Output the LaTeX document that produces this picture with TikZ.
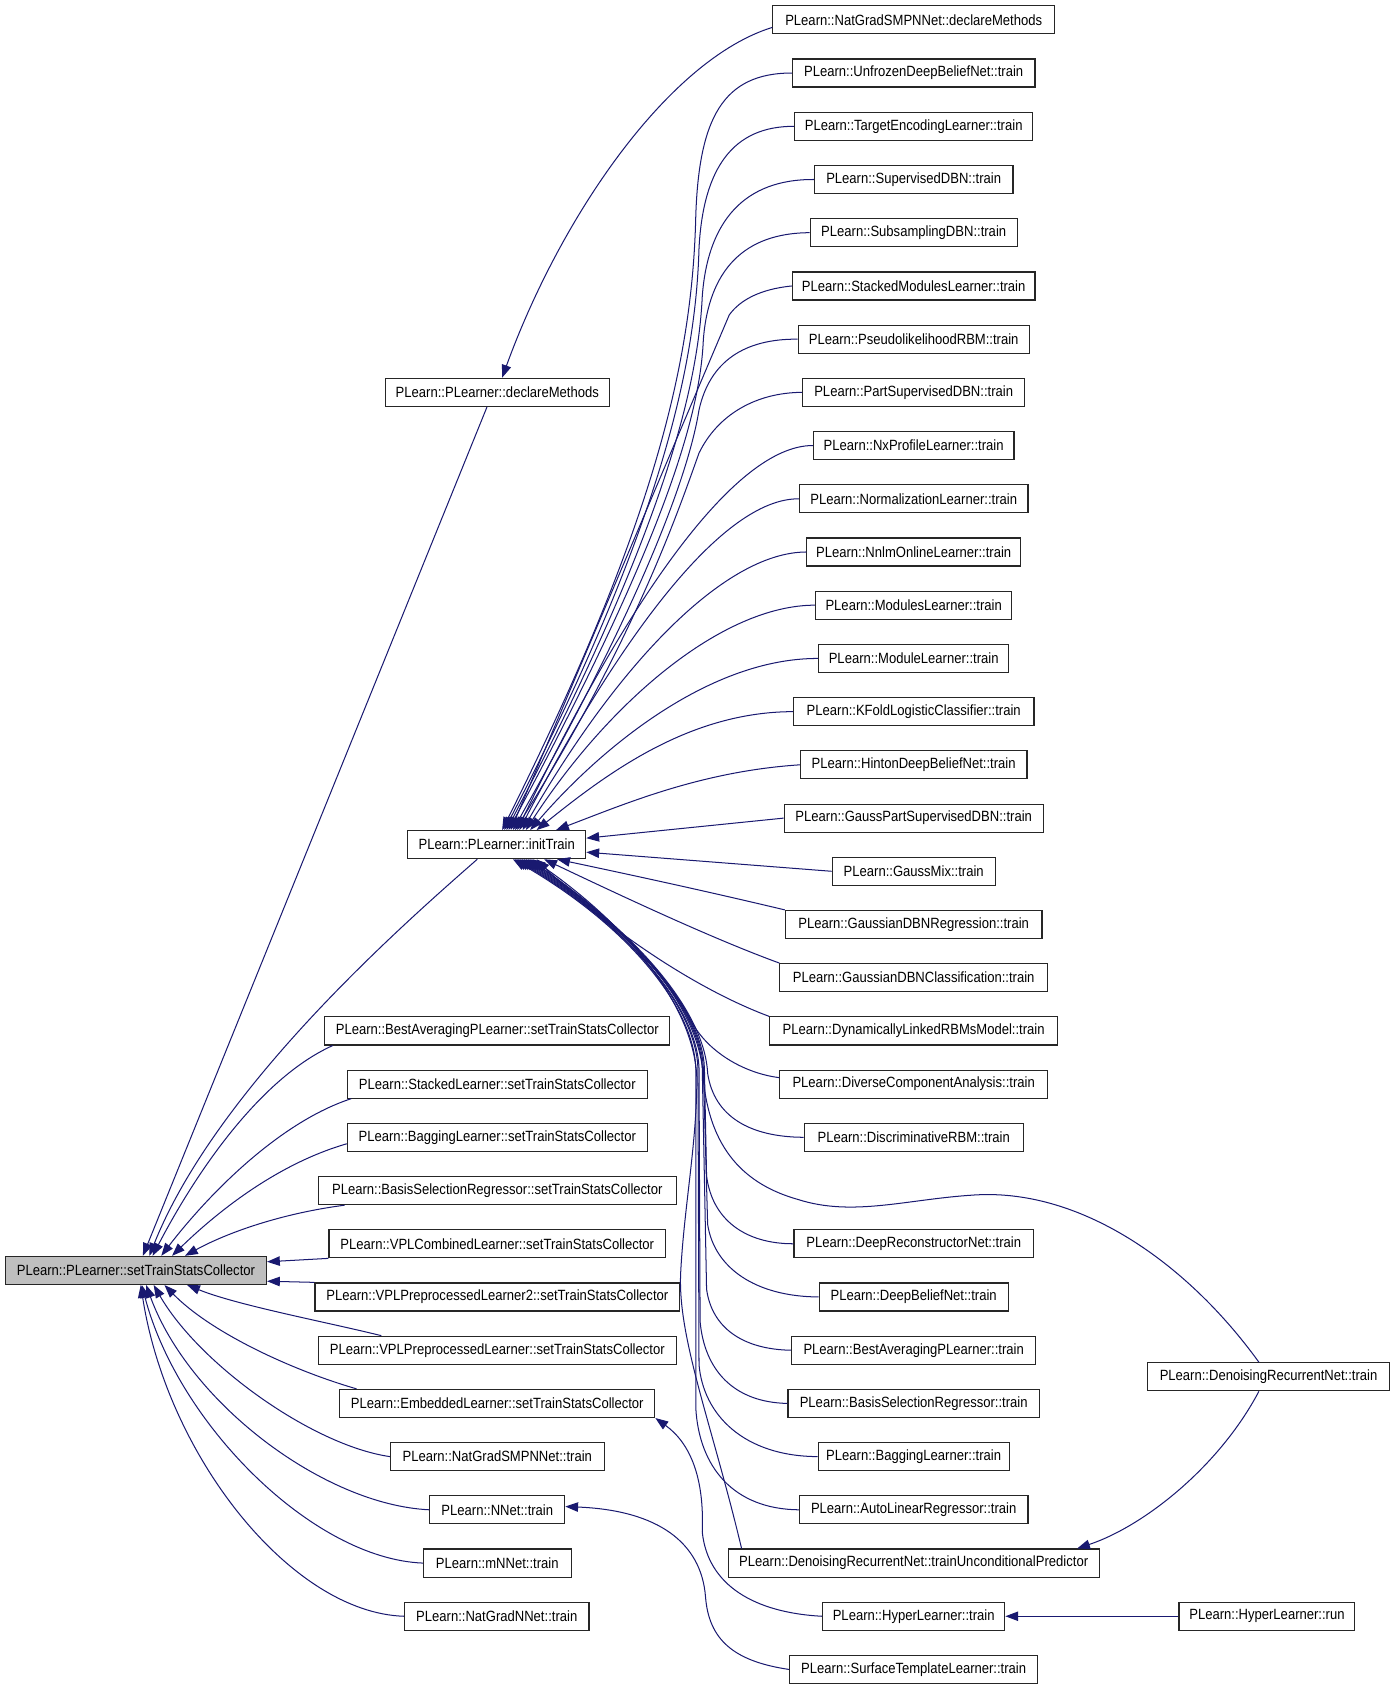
\documentclass[tikz,border=0pt]{standalone}
\usepackage{fontspec}
\setmainfont{Liberation Sans}
\usepackage{graphicx}
\usetikzlibrary{arrows.meta,calc}
\definecolor{edgec}{RGB}{25,25,112}
\definecolor{hilite}{RGB}{191,191,191}
\newcommand{\tx}[1]{\scalebox{0.88}[1]{#1}}
\newcommand{\bx}[5]{\node[box,minimum width=#4*0.8pt] (#1) at (#2,#3) {\tx{#5}};}
\begin{document}
\begin{tikzpicture}[x=0.8pt,y=-0.8pt,
  box/.style={draw=black!85, line width=0.85pt, fill=white, minimum height=26*0.8pt, inner sep=0pt, font=\fontsize{11}{13}\selectfont},
  edge/.style={draw=edgec, line width=0.75pt, -{Triangle[length=9.5pt,width=7pt]}}]
\useasboundingbox[fill=white] (0,0) rectangle (1290.4,1567.6);
% left
\node[box,fill=hilite,minimum width=242*0.8pt] (stc) at (126,1177.7) {\tx{PLearn::PLearner::setTrainStatsCollector}};
\bx{pdm}{461}{363.7}{208}{PLearn::PLearner::declareMethods}
\bx{pit}{460.5}{783}{165}{PLearn::PLearner::initTrain}
% middle
\bx{m1}{461}{955.7}{320}{PLearn::BestAveragingPLearner::setTrainStatsCollector}
\bx{m2}{461}{1005}{278}{PLearn::StackedLearner::setTrainStatsCollector}
\bx{m3}{461}{1054.3}{278}{PLearn::BaggingLearner::setTrainStatsCollector}
\bx{m4}{461}{1103.7}{332}{PLearn::BasisSelectionRegressor::setTrainStatsCollector}
\bx{m5}{461}{1153}{312}{PLearn::VPLCombinedLearner::setTrainStatsCollector}
\bx{m6}{461}{1202.3}{338}{PLearn::VPLPreprocessedLearner2::setTrainStatsCollector}
\bx{m7}{461}{1251.7}{332}{PLearn::VPLPreprocessedLearner::setTrainStatsCollector}
\bx{m8}{461}{1301}{292}{PLearn::EmbeddedLearner::setTrainStatsCollector}
\bx{m9}{461}{1350.3}{198}{PLearn::NatGradSMPNNet::train}
\bx{m10}{461}{1399.6}{125}{PLearn::NNet::train}
\bx{m11}{461}{1449}{137}{PLearn::mNNet::train}
\bx{m12}{460.5}{1498.3}{171}{PLearn::NatGradNNet::train}
% right column
\bx{r0}{847}{18.4}{261}{PLearn::NatGradSMPNNet::declareMethods}
\bx{r1}{847}{67.7}{225}{PLearn::UnfrozenDeepBeliefNet::train}
\bx{r2}{847}{117.1}{221}{PLearn::TargetEncodingLearner::train}
\bx{r3}{847}{166.4}{184}{PLearn::SupervisedDBN::train}
\bx{r4}{847}{215.7}{192}{PLearn::SubsamplingDBN::train}
\bx{r5}{847}{265.1}{225}{PLearn::StackedModulesLearner::train}
\bx{r6}{847}{314.4}{214}{PLearn::PseudolikelihoodRBM::train}
\bx{r7}{847}{363.7}{206}{PLearn::PartSupervisedDBN::train}
\bx{r8}{847}{413}{186}{PLearn::NxProfileLearner::train}
\bx{r9}{847}{462.4}{212}{PLearn::NormalizationLearner::train}
\bx{r10}{847}{511.7}{198}{PLearn::NnlmOnlineLearner::train}
\bx{r11}{847}{561}{182}{PLearn::ModulesLearner::train}
\bx{r12}{847}{610.4}{176}{PLearn::ModuleLearner::train}
\bx{r13}{847}{659.7}{223}{PLearn::KFoldLogisticClassifier::train}
\bx{r14}{847}{709}{210}{PLearn::HintonDeepBeliefNet::train}
\bx{r15}{847}{758.4}{240}{PLearn::GaussPartSupervisedDBN::train}
\bx{r16}{847}{807.7}{151}{PLearn::GaussMix::train}
\bx{r17}{847}{857}{238}{PLearn::GaussianDBNRegression::train}
\bx{r18}{847}{906.3}{248}{PLearn::GaussianDBNClassification::train}
\bx{r19}{847}{955.7}{267}{PLearn::DynamicallyLinkedRBMsModel::train}
\bx{r20}{847}{1005}{248}{PLearn::DiverseComponentAnalysis::train}
\bx{r21}{847}{1054.3}{203}{PLearn::DiscriminativeRBM::train}
\bx{r22}{847}{1153}{222}{PLearn::DeepReconstructorNet::train}
\bx{r23}{847}{1202.3}{175}{PLearn::DeepBeliefNet::train}
\bx{r24}{847}{1251.7}{226}{PLearn::BestAveragingPLearner::train}
\bx{r25}{847}{1301}{233}{PLearn::BasisSelectionRegressor::train}
\bx{r26}{847}{1350.3}{177}{PLearn::BaggingLearner::train}
\bx{r27}{847}{1399.6}{212}{PLearn::AutoLinearRegressor::train}
\bx{r28}{847}{1449}{344}{PLearn::DenoisingRecurrentNet::trainUnconditionalPredictor}
\bx{r29}{847}{1498.3}{169}{PLearn::HyperLearner::train}
\bx{r30}{847}{1547.6}{230}{PLearn::SurfaceTemplateLearner::train}
% far right
\bx{drn}{1176}{1276.3}{224}{PLearn::DenoisingRecurrentNet::train}
\bx{hlr}{1174.5}{1498.3}{163}{PLearn::HyperLearner::run}

% ---- edges into setTrainStatsCollector
\draw[edge] ($(pdm.south west)+(95,0)$) -- ($(stc.north west)+(128,0)$);
\draw[edge] ($(pit.south west)+(65,0)$) .. controls (370,860) and (200,1010) .. ($(stc.north west)+(134,0)$);
\draw[edge] ($(m1.south west)+(8,0)$) .. controls (240,1000) and (180,1090) .. ($(stc.north west)+(137,0)$);
\draw[edge] ($(m2.south west)+(4,0)$) .. controls (260,1040) and (195,1105) .. ($(stc.north west)+(145,0)$);
\draw[edge] ($(m3.west)+(0,6)$) .. controls (260,1078) and (205,1120) .. ($(stc.north west)+(155,0)$);
\draw[edge] ($(m4.south west)+(25,0)$) .. controls (260,1125) and (210,1143) .. ($(stc.north west)+(167,0)$);
\draw[edge] (m5.south west) -- ($(stc.east)+(0,-8)$);
\draw[edge] (m6.north west) -- ($(stc.east)+(0,10)$);
\draw[edge] ($(m7.north west)+(59,0)$) .. controls (300,1225) and (220,1210) .. ($(stc.south west)+(169,0)$);
\draw[edge] ($(m8.north west)+(16,0)$) .. controls (270,1270) and (195,1235) .. ($(stc.south west)+(148,0)$);
\draw[edge] (m9.west) .. controls (290,1340) and (185,1265) .. ($(stc.south west)+(138,0)$);
\draw[edge] (m10.west) .. controls (300,1395) and (175,1300) .. ($(stc.south west)+(131,0)$);
\draw[edge] (m11.west) .. controls (290,1445) and (165,1320) .. ($(stc.south west)+(127,0)$);
\draw[edge] (m12.west) .. controls (270,1495) and (155,1350) .. ($(stc.south west)+(126,0)$);

% ---- into declareMethods
\draw[edge] ($(r0.west)+(0,7)$) .. controls (620,55) and (520,200) .. ($(pdm.north west)+(109,0)$);

% ---- into initTrain (top)
\draw[edge] (r1.west) .. controls (670,67.7) and (648,110) .. (645,200) .. controls (642,330) and (610,480) .. ($(pit.north west)+(88,0)$);
\draw[edge] (r2.west) .. controls (680,117) and (652,155) .. (648,230) .. controls (645,340) and (612,490) .. ($(pit.north west)+(90,0)$);
\draw[edge] (r3.west) .. controls (690,166) and (656,205) .. (651,275) .. controls (647,360) and (614,495) .. ($(pit.north west)+(92,0)$);
\draw[edge] (r4.west) .. controls (690,216) and (657,250) .. (652,315) .. controls (649,385) and (616,500) .. ($(pit.north west)+(94,0)$);
\draw[edge] (r5.west) .. controls (705,268) and (686,278) .. (676,292) -- ($(pit.north west)+(96,0)$);
\draw[edge] (r6.west) .. controls (690,314) and (658,335) .. (648,380) .. controls (640,430) and (605,540) .. ($(pit.north west)+(98,0)$);
\draw[edge] (r7.west) .. controls (700,364) and (665,385) .. (648,420) .. controls (630,470) and (590,590) .. ($(pit.north west)+(100,0)$);
\draw[edge] (r8.west) .. controls (680,413) and (580,560) .. ($(pit.north west)+(102,0)$);
\draw[edge] (r9.west) .. controls (670,462) and (575,590) .. ($(pit.north west)+(104,0)$);
\draw[edge] (r10.west) .. controls (670,512) and (570,620) .. ($(pit.north west)+(107,0)$);
\draw[edge] (r11.west) .. controls (670,561) and (565,650) .. ($(pit.north west)+(110,0)$);
\draw[edge] (r12.west) .. controls (660,610) and (560,690) .. ($(pit.north west)+(114,0)$);
\draw[edge] (r13.west) .. controls (640,660) and (565,715) .. ($(pit.north west)+(120,0)$);
\draw[edge] (r14.west) .. controls (650,715) and (580,745) .. ($(pit.north west)+(138,0)$);
% right side
\draw[edge] (r15.west) -- ($(pit.east)+(0,-6)$);
\draw[edge] (r16.west) -- ($(pit.east)+(0,7)$);
% bottom
\draw[edge] (r17.north west) .. controls (650,825) and (580,810) .. ($(pit.south west)+(139,0)$);
\draw[edge] (r18.north west) .. controls (660,870) and (575,830) .. ($(pit.south west)+(127,0)$);
\draw[edge] (r19.north west) .. controls (640,915) and (555,855) .. ($(pit.south west)+(120,0)$);
\draw[edge] ($(r20.west)+(0,-6)$) .. controls (690,995) and (655,975) .. (640,945) .. controls (625,915) and (580,860) .. ($(pit.south west)+(114,0)$);
\draw[edge] (r21.west) .. controls (695,1054) and (662,1035) .. (656,995) .. controls (653,935) and (585,860) .. ($(pit.south west)+(110,0)$);
\draw[edge] (r22.west) .. controls (690,1153) and (660,1130) .. (655,1090) -- (653,990) .. controls (651,935) and (585,860) .. ($(pit.south west)+(108,0)$);
\draw[edge] (r23.west) .. controls (700,1202) and (662,1175) .. (656,1135) -- (652,990) .. controls (650,935) and (585,860) .. ($(pit.south west)+(106,0)$);
\draw[edge] (r24.west) .. controls (690,1251) and (660,1232) .. (655,1195) -- (651,990) .. controls (649,935) and (585,860) .. ($(pit.south west)+(104,0)$);
\draw[edge] (r25.west) .. controls (680,1300) and (653,1270) .. (649,1225) -- (648,990) .. controls (646,935) and (585,860) .. ($(pit.south west)+(102,0)$);
\draw[edge] (r26.west) .. controls (690,1350) and (652,1312) .. (648,1265) -- (647,990) .. controls (645,935) and (585,860) .. ($(pit.south west)+(100,0)$);
\draw[edge] (r27.west) .. controls (680,1399) and (648,1360) .. (645,1305) -- (645,990) .. controls (643,935) and (585,860) .. ($(pit.south west)+(98,0)$);
\draw[edge] ($(r28.north west)+(13,0)$) .. controls (660,1320) and (628,1240) .. (631,1180) .. controls (634,1120) and (646,1060) .. (646,1000) .. controls (644,935) and (585,860) .. ($(pit.south west)+(116,0)$);
\draw[edge] ($(drn.north)+(-9,0)$) .. controls (1100,1170) and (1000,1100) .. (900,1108) .. controls (840,1112) and (790,1128) .. (740,1112) .. controls (690,1098) and (658,1065) .. (652,1000) .. controls (650,935) and (585,860) .. ($(pit.south west)+(112,0)$);

% ---- others
\draw[edge] ($(drn.south)+(-9,0)$) .. controls (1130,1360) and (1060,1415) .. ($(r28.north east)+(-21,0)$);
\draw[edge] (r29.west) .. controls (700,1495) and (656,1470) .. (651,1420) .. controls (653,1370) and (640,1338) .. (m8.south east);
\draw[edge] (r30.west) .. controls (680,1540) and (657,1520) .. (654,1480) .. controls (650,1430) and (610,1400) .. ($(m10.east)+(0,-3)$);
\draw[edge] (hlr.west) -- (r29.east);
\end{tikzpicture}
\end{document}
